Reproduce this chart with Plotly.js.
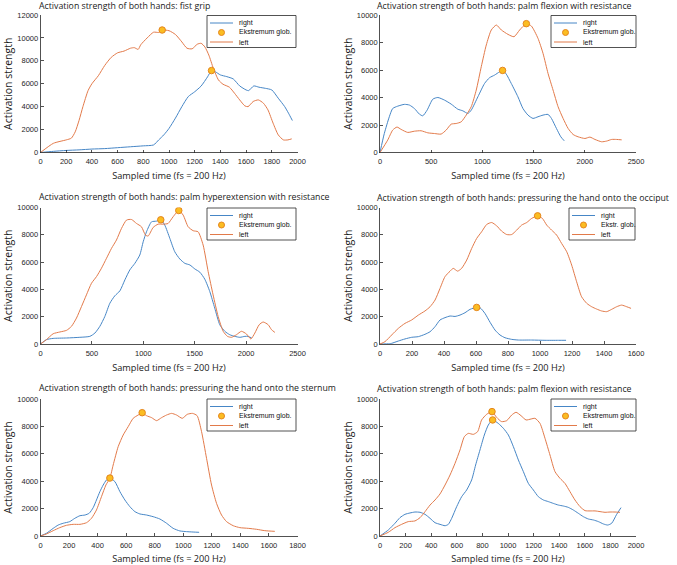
<!DOCTYPE html>
<html>
<head>
<meta charset="utf-8">
<script src="https://cdn.plot.ly/plotly-3.0.1.min.js"></script>
<style>html,body{margin:0;padding:0;background:#fff;}#chart{width:677px;height:565px;}</style>
</head>
<body>
<div id="chart"></div>
<script>
// ---------- DATA ----------
const panelTitles = [
  'Activation strength of both hands: fist grip',
  'Activation strength of both hands: palm flexion with resistance',
  'Activation strength of both hands: palm hyperextension with resistance',
  'Activation strength of both hands: pressuring the hand onto the occiput',
  'Activation strength of both hands: pressuring the hand onto the sternum',
  'Activation strength of both hands: palm flexion with resistance'
];
const seriesNames = ['right', 'Ekstremum glob.', 'left'];
const seriesNamesShort = ['right', 'Ekstr. glob.', 'left'];
const xAxisTitle = 'Sampled time (fs = 200 Hz)';
const yAxisTitle = 'Activation strength';

// Panel 1: fist grip
const p1RightX = [0,100,200,300,400,500,600,700,800,880,920,960,1000,1050,1100,1150,1200,1250,1300,1331,1360,1400,1450,1500,1550,1600,1620,1660,1700,1750,1800,1850,1900,1930,1960];
const p1RightY = [0,100,180,230,300,340,420,500,580,660,1100,1540,2100,3000,4000,4880,5300,5800,6600,7150,7050,6770,6620,6420,5810,5460,5400,5810,5700,5600,5460,4740,4010,3430,2790];
const p1LeftX = [0,100,200,240,270,300,330,370,400,450,500,550,600,650,700,730,760,780,830,880,920,947,1000,1050,1100,1140,1180,1220,1250,1280,1310,1345,1385,1420,1470,1510,1550,1590,1615,1655,1695,1735,1770,1810,1850,1890,1925,1955];
const p1LeftY = [0,800,1100,1250,1800,2800,4000,5400,6000,6700,7600,8300,8700,8850,9100,9150,9000,9400,10000,10500,10480,10690,10630,10300,9650,9100,9050,9450,9530,9200,8500,7350,6330,5960,5700,5170,4590,4070,4000,4450,4590,4300,3720,2560,1540,1100,1100,1190];
const p1ExtX = [947, 1331];
const p1ExtY = [10690, 7150];

// Panel 2: palm flexion with resistance
const p2RightX = [0,42,91,124,173,238,287,336,385,418,460,516,565,630,695,760,809,858,891,956,1021,1070,1119,1168,1197,1233,1282,1347,1396,1445,1494,1543,1592,1641,1674,1723,1766,1799];
const p2RightY = [0,1380,2600,3200,3370,3500,3450,3200,2790,2670,3080,3880,4000,3810,3520,3150,3030,2840,3080,4050,5020,5440,5630,5870,5970,5700,5020,4050,3200,2720,2480,2600,2720,2770,2480,1750,1140,850];
const p2LeftX = [0,75,124,166,206,271,336,401,467,532,597,646,695,744,793,842,891,940,989,1038,1087,1136,1185,1250,1309,1364,1429,1478,1543,1592,1641,1690,1739,1788,1837,1886,1935,2001,2050,2099,2164,2213,2262,2311,2360];
const p2LeftY = [0,900,1630,1850,1680,1460,1550,1580,1430,1380,1340,1630,2060,2110,2230,2720,3330,4540,6240,7820,8910,9270,8910,8590,8420,8910,9370,9200,8300,7210,5750,4540,3330,2480,1750,1310,1140,1020,1120,950,780,830,950,950,920];
const p2ExtX = [1197, 1429];
const p2ExtY = [5970, 9370];

// Panel 3: palm hyperextension with resistance
const p3RightX = [0,58,123,253,383,480,529,577,626,675,723,772,821,869,918,966,999,1031,1080,1128,1170,1209,1258,1306,1355,1404,1453,1501,1550,1598,1647,1695,1744,1793,1841,1890,1939,1988,2020,2053];
const p3RightY = [0,320,410,440,490,560,800,1290,2020,2990,3530,3890,4700,5430,5910,6520,7490,8220,8950,9000,9100,8710,7740,6760,6230,5910,5790,5500,5260,4750,3840,2630,1410,930,680,560,490,560,560,440];
const p3LeftX = [0,58,123,188,253,301,350,399,447,496,545,593,642,691,739,788,837,885,934,982,1021,1047,1096,1144,1193,1241,1290,1345,1388,1436,1485,1533,1582,1631,1679,1728,1777,1819,1858,1906,1955,2004,2046,2085,2127,2166,2215,2247,2280];
const p3LeftY = [0,320,750,880,1000,1290,1900,2750,3600,4450,4940,5550,6280,7010,7620,8470,9080,9120,8830,8590,7980,7910,8540,8780,8780,8830,9320,9780,9440,8590,8300,8220,7250,5300,3600,2020,930,560,490,680,930,730,370,800,1410,1610,1410,1050,850];
const p3ExtX = [1170, 1345];
const p3ExtY = [9100, 9780];

// Panel 4: pressuring the hand onto the occiput
const p4RightX = [0,60,73,115,156,198,240,281,313,344,375,406,438,469,500,531,563,604,625,656,688,719,750,781,823,865,948,1031,1115,1163];
const p4RightY = [0,20,50,220,370,490,540,710,900,1270,1760,1930,2050,2020,2120,2290,2540,2680,2660,2240,1590,1020,660,460,340,290,290,270,270,270];
const p4LeftX = [0,31,73,115,156,198,240,281,313,344,375,406,438,458,485,510,542,573,604,635,667,698,729,760,792,823,854,885,917,948,985,1015,1042,1073,1104,1135,1167,1198,1229,1260,1292,1323,1354,1385,1417,1448,1479,1510,1542,1569];
const p4LeftY = [0,170,660,1150,1510,1760,2120,2420,2730,3220,4070,4930,5340,5540,5340,5540,6150,7000,7730,8220,8760,8900,8660,8270,8020,8020,8340,8710,8900,9200,9390,9200,8710,8340,7980,7370,6760,5780,4560,3460,2980,2730,2560,2420,2370,2540,2730,2850,2730,2610];
const p4ExtX = [604, 985];
const p4ExtY = [2680, 9390];

// Panel 5: pressuring the hand onto the sternum
const p5RightX = [0,42,89,124,159,205,240,276,311,341,369,392,416,439,462,486,521,556,591,626,661,696,743,789,836,883,929,976,1023,1069,1111];
const p5RightY = [0,200,560,800,930,1050,1290,1480,1530,1660,2070,2630,3240,3720,4090,4230,3970,3240,2630,2140,1780,1610,1530,1410,1240,930,560,370,320,290,270];
const p5LeftX = [0,42,89,135,182,229,276,322,357,392,427,458,486,509,544,579,614,649,684,712,743,778,813,848,883,918,953,993,1028,1065,1097,1128,1163,1198,1233,1268,1303,1350,1396,1455,1513,1571,1641];
const p5LeftY = [0,150,390,610,780,850,850,970,1290,1900,2870,3720,4230,5180,6520,7370,7980,8590,8830,9000,8780,8640,8420,8640,8830,8950,8830,8590,8880,8950,8780,7620,5670,3720,2380,1530,1050,750,610,560,490,390,340];
const p5ExtX = [486, 712];
const p5ExtY = [4230, 9000];

// Panel 6: palm flexion with resistance
const p6RightX = [0,65,117,156,195,234,273,313,352,391,430,469,508,534,560,599,638,677,716,747,781,815,846,880,924,964,1003,1042,1081,1120,1159,1198,1237,1276,1315,1354,1393,1432,1471,1510,1549,1589,1628,1667,1706,1745,1779,1810,1849,1883];
const p6RightY = [0,440,930,1340,1580,1680,1750,1730,1580,1290,970,850,750,850,1290,2140,2870,3360,4090,5180,6280,7370,8100,8470,8220,7860,7370,6520,5550,4700,3840,3360,2870,2630,2510,2380,2260,2190,2090,1900,1660,1410,1240,1170,1050,880,800,930,1580,2070];
const p6LeftX = [0,65,117,169,221,273,313,352,391,430,469,508,547,586,625,659,690,729,763,794,833,875,911,950,990,1029,1063,1102,1141,1180,1211,1250,1289,1328,1367,1406,1445,1484,1523,1563,1602,1641,1680,1719,1758,1797,1836,1875];
const p6LeftY = [0,270,610,850,1050,1100,1340,1780,2260,2630,3070,3720,4450,5300,6280,7250,7490,7420,7620,8470,8880,9080,8660,8350,8420,8830,9030,8780,8470,8540,8590,8220,7130,5910,4700,4210,3840,3240,2630,2140,1850,1830,1830,1780,1730,1750,1750,1730];
const p6ExtX = [875, 880];
const p6ExtY = [9080, 8470];

const xMax = [2000, 2500, 2500, 1600, 1800, 2000];
const yMax = [12000, 10000, 10000, 10000, 10000, 10000];
const xStep = [200, 500, 500, 200, 200, 200];
const yStep = [2000, 2000, 2000, 2000, 2000, 2000];

// ---------- STYLE / LAYOUT ----------
const W = 677, H = 565;
const pxX = x => x / W;
const pxY = y => 1 - y / H;

const blue = '#4686c6';
const orange = '#e27a4a';
const markerFill = '#fbbd22';
const markerEdge = '#e5861e';
const axisColor = '#262626';

const panels = [
  {rx:p1RightX, ry:p1RightY, lx:p1LeftX, ly:p1LeftY, ex:p1ExtX, ey:p1ExtY, names:seriesNames},
  {rx:p2RightX, ry:p2RightY, lx:p2LeftX, ly:p2LeftY, ex:p2ExtX, ey:p2ExtY, names:seriesNames},
  {rx:p3RightX, ry:p3RightY, lx:p3LeftX, ly:p3LeftY, ex:p3ExtX, ey:p3ExtY, names:seriesNames},
  {rx:p4RightX, ry:p4RightY, lx:p4LeftX, ly:p4LeftY, ex:p4ExtX, ey:p4ExtY, names:seriesNamesShort},
  {rx:p5RightX, ry:p5RightY, lx:p5LeftX, ly:p5LeftY, ex:p5ExtX, ey:p5ExtY, names:seriesNames},
  {rx:p6RightX, ry:p6RightY, lx:p6LeftX, ly:p6LeftY, ex:p6ExtX, ey:p6ExtY, names:seriesNames}
];

// pixel geometry of each panel: plot box [left, top, right, bottom]
const boxes = [
  [40.5, 15, 297.5, 152.5],
  [380, 15, 636, 152.5],
  [40.5, 207.5, 297.5, 344],
  [380, 207.5, 636, 344],
  [40.5, 399, 297.5, 536],
  [380, 399, 636, 536]
];
const titlePos = [[37, 6], [375, 6], [37, 197], [375, 197.5], [37, 388], [375, 389]];
const legendBoxes = [
  [207, 15.5, 296, 47.5],
  [551, 15.5, 636, 47.5],
  [207, 208, 296, 240],
  [569, 208, 635, 240],
  [207, 399, 296, 431],
  [551, 399, 636, 431]
];

const data = [];
const layout = {
  width: W, height: H,
  margin: {l: 0, r: 0, t: 0, b: 0},
  paper_bgcolor: '#ffffff',
  plot_bgcolor: '#ffffff',
  showlegend: false,
  annotations: [],
  shapes: []
};

panels.forEach((p, i) => {
  const n = i + 1;
  const xa = n === 1 ? 'x' : 'x' + n;
  const ya = n === 1 ? 'y' : 'y' + n;
  const lineCommon = {mode: 'lines', xaxis: xa, yaxis: ya, hoverinfo: 'x+y'};
  data.push(Object.assign({x: p.rx, y: p.ry, name: p.names[0],
    line: {color: blue, width: 1, shape: 'spline', smoothing: 0.6}}, lineCommon));
  data.push(Object.assign({x: p.lx, y: p.ly, name: p.names[2],
    line: {color: orange, width: 1, shape: 'spline', smoothing: 0.6}}, lineCommon));
  data.push({x: p.ex, y: p.ey, name: p.names[1], mode: 'markers', xaxis: xa, yaxis: ya,
    marker: {color: markerFill, size: 6.5, line: {color: markerEdge, width: 1}}});

  const b = boxes[i];
  const axisCommon = {
    showline: true, linecolor: axisColor, linewidth: 0.8,
    ticks: 'inside', ticklen: 3, tickwidth: 0.8, tickcolor: axisColor,
    showgrid: false, zeroline: false, mirror: false,
    tickformat: 'd',
    tickfont: {family: 'Liberation Sans, Arial, sans-serif', size: 7.5, color: axisColor},
    fixedrange: true
  };
  layout['xaxis' + (n === 1 ? '' : n)] = Object.assign({}, axisCommon, {
    domain: [pxX(b[0]), pxX(b[2])], anchor: ya,
    range: [0, xMax[i]], dtick: xStep[i], tick0: 0,
    ticklabelstandoff: 2,
    title: {text: xAxisTitle, standoff: 7,
      font: {family: 'Open Sans, sans-serif', size: 9.2, color: '#1a1a1a'}}
  });
  layout['yaxis' + (n === 1 ? '' : n)] = Object.assign({}, axisCommon, {
    domain: [pxY(b[3]), pxY(b[1])], anchor: xa,
    range: [0, yMax[i]], dtick: yStep[i], tick0: 0,
    title: {text: yAxisTitle, standoff: 2,
      font: {family: 'Open Sans, sans-serif', size: 10.5, color: '#1a1a1a'}}
  });

  // panel title
  layout.annotations.push({
    text: panelTitles[i], xref: 'paper', yref: 'paper',
    x: pxX(titlePos[i][0]), y: pxY(titlePos[i][1]),
    xanchor: 'left', yanchor: 'middle', showarrow: false,
    font: {family: 'Open Sans, sans-serif', size: 8.75, color: '#1a1a1a'}
  });

  // legend box (MATLAB-style)
  const L = legendBoxes[i];
  layout.shapes.push({type: 'rect', xref: 'paper', yref: 'paper',
    x0: pxX(L[0]), x1: pxX(L[2]), y0: pxY(L[3]), y1: pxY(L[1]),
    fillcolor: '#ffffff', line: {color: axisColor, width: 0.8}, layer: 'above'});
  const rows = [L[1] + 7.5, L[1] + 17, L[1] + 26.5];
  const swatchColors = [blue, null, orange];
  rows.forEach((ry, k) => {
    if (k === 1) {
      layout.shapes.push({type: 'circle', xref: 'paper', yref: 'paper',
        x0: pxX(L[0] + 11.5), x1: pxX(L[0] + 17.5), y0: pxY(ry + 3), y1: pxY(ry - 3),
        fillcolor: markerFill, line: {color: markerEdge, width: 1}, layer: 'above'});
    } else {
      layout.shapes.push({type: 'line', xref: 'paper', yref: 'paper',
        x0: pxX(L[0] + 3), x1: pxX(L[0] + 26), y0: pxY(ry), y1: pxY(ry),
        line: {color: swatchColors[k], width: 1}, layer: 'above'});
    }
    layout.annotations.push({
      text: p.names[k], xref: 'paper', yref: 'paper',
      x: pxX(L[0] + 30), y: pxY(ry), xanchor: 'left', yanchor: 'middle', showarrow: false,
      font: {family: 'Liberation Sans, Arial, sans-serif', size: 7, color: '#111'}
    });
  });
});

Plotly.newPlot('chart', data, layout, {displayModeBar: false, staticPlot: true});
</script>
</body>
</html>
